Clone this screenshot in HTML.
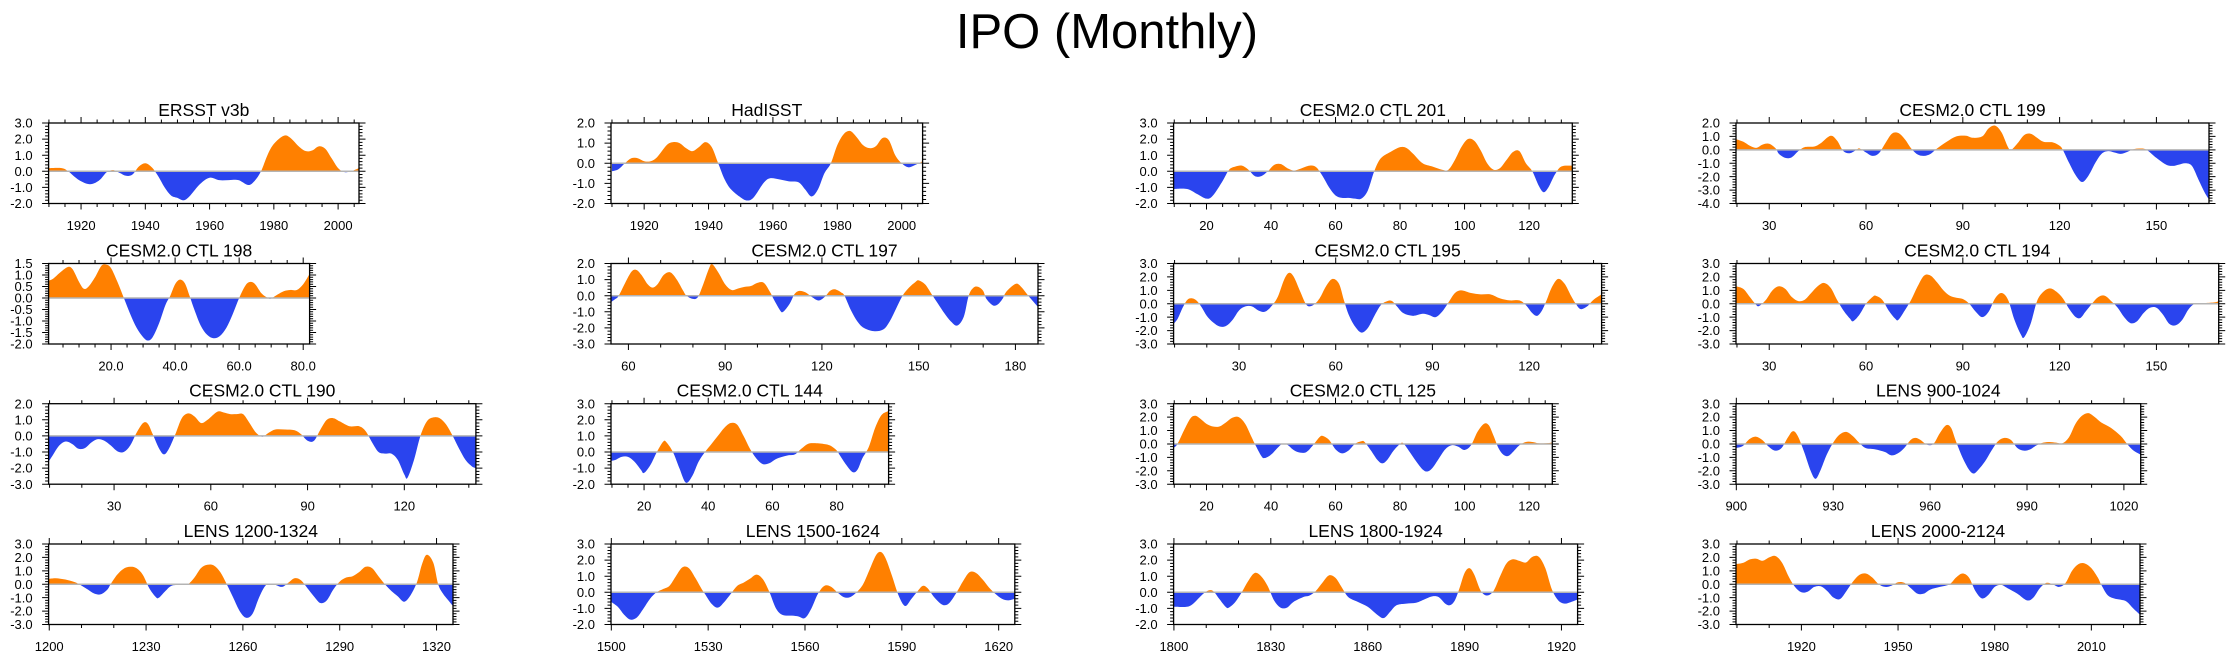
<!DOCTYPE html>
<html><head><meta charset="utf-8"><style>
html,body{margin:0;padding:0;background:#fff;}
svg{display:block;font-family:"Liberation Sans",sans-serif;}
</style></head><body>
<svg id="chart" width="2237" height="661" viewBox="0 0 2237 661" xmlns="http://www.w3.org/2000/svg">
<rect width="2237" height="661" fill="#fff"/>
<text x="1107" y="48" font-size="49" text-anchor="middle" fill="#000">IPO (Monthly)</text>
</svg>
<script>
// ---- data (x = year/model year, y = IPO index) ----
const ersstX=[1910,1914,1916,1919,1922,1924,1926,1928,1930,1932,1934,1936,1938,1940,1942,1944,1946,1948,1950,1952,1954,1957,1960,1963,1966,1969,1972,1974,1976,1978,1980,1983,1985,1988,1990,1992,1994,1996,1998,2000,2002,2004,2006.5];
const ersstY=[0.2,0.2,0,-0.5,-0.78,-0.75,-0.5,-0.05,0.07,-0.1,-0.28,-0.2,0.3,0.5,0.25,-0.3,-1.0,-1.5,-1.65,-1.8,-1.5,-0.8,-0.4,-0.55,-0.55,-0.55,-0.85,-0.6,0,1.0,1.7,2.2,2.1,1.5,1.25,1.3,1.55,1.4,0.8,0.2,-0.05,0,0.2];
const hadX=[1910,1912,1914,1916,1918,1920,1922,1924,1927,1929,1931,1933,1935,1937,1939,1941,1943,1945,1947,1950,1952,1954,1957,1959,1962,1965,1968,1970,1972,1974,1976,1978,1980,1982,1984,1986,1988,1990,1992,1994,1996,1998,2000,2002,2004,2006.5];
const hadY=[-0.4,-0.3,0,0.25,0.25,0.1,0.1,0.3,0.9,1.05,1.0,0.75,0.6,0.8,1.05,0.8,0,-0.8,-1.3,-1.7,-1.85,-1.7,-1.0,-0.75,-0.8,-0.9,-0.95,-1.3,-1.65,-1.3,-0.5,0,0.9,1.45,1.6,1.3,0.9,0.75,0.85,1.25,1.15,0.4,0,-0.2,-0.1,0.1];
const c201X=[9.8,14,17,20,22,25,27,29,31,33,35,37,39,41,43,45,47,49,52,54,56,58,60,62,64,66,68,70,72,74,77,80,82,84,87,90,93,95,97,99,101,103,105,107,109,111,113,115,117,119,121,123,124.5,126,128,130,133.4];
const c201Y=[-1.1,-1.1,-1.4,-1.7,-1.5,-0.6,0.1,0.3,0.35,0.1,-0.3,-0.3,0,0.4,0.45,0.2,0.05,0.15,0.35,0.25,-0.3,-1.0,-1.5,-1.65,-1.65,-1.7,-1.7,-1.2,0,0.8,1.2,1.5,1.45,1.1,0.5,0.3,0.1,0.1,0.7,1.5,2.0,1.9,1.3,0.5,0.1,0.2,0.7,1.2,1.25,0.5,0,-0.9,-1.3,-1.0,-0.2,0.3,0.35];
const c199X=[19.7,22,24,26,28,30,32,33,35,37,39,41,44,46,49,51,53,55,57,58,60,62,64,66,68,70,72,74,76,78,80,82,85,88,91,93,96,98,100,102,104,105,107,109,111,113,115,118,120,121,123,125,127,129,131,133,135,137,139,141,143,145,147,150,153,155,157,159,161,163,165,166.3];
const c199Y=[0.8,0.6,0.3,0.15,0.4,0.45,0.1,-0.3,-0.6,-0.55,-0.1,0.2,0.25,0.5,1.05,0.7,-0.1,-0.25,0,0.1,-0.2,-0.45,-0.25,0.5,1.2,1.25,0.8,0.1,-0.35,-0.45,-0.3,0.1,0.6,1.0,1.05,0.9,1.0,1.6,1.8,1.3,0.2,0,0.5,1.1,1.2,0.9,0.6,0.55,0.3,0,-1.0,-1.9,-2.4,-1.9,-1.0,-0.3,-0.1,-0.2,-0.3,-0.15,0.05,0.1,0,-0.6,-1.1,-1.2,-1.1,-1.0,-1.2,-2.2,-3.2,-3.7];
const c198X=[0.5,2,4,6.5,8,10,11.5,13,15,17,18.5,20,22,24,26,28,30,31.5,33,35,37,38.5,40,41.5,43,44.5,46,48,50,52,54,56,58,60,62,63.5,65,67,69,70,72,74,76,78,80,82];
const c198Y=[0.75,0.85,1.1,1.35,1.25,0.7,0.4,0.5,0.9,1.4,1.45,1.3,0.7,0,-0.7,-1.3,-1.7,-1.85,-1.7,-1.1,-0.3,0.1,0.6,0.8,0.65,0.1,-0.5,-1.2,-1.6,-1.75,-1.65,-1.3,-0.7,0,0.55,0.7,0.6,0.2,0,-0.02,0.15,0.3,0.35,0.35,0.6,1.05];
const c197X=[54.6,56,57,59,61,62.5,64,66,67.5,69,71,73,75,77,78,80,81.5,83,85,86,88,90,92,94,96,98,100,102,104,105,107,108,110,111.5,113,115,117,119,121,122.5,124,126,127,129,131,133,136,139,141,143,145,147,149,150,152,154,156,158,160,162,164,165.5,167,168.5,170,171,173,174.5,176,177,179,180.5,182,184,187];
const c197Y=[-0.4,-0.2,0,0.8,1.5,1.6,1.3,0.7,0.5,0.7,1.3,1.45,1.0,0.3,0,-0.2,-0.1,0.6,1.7,1.95,1.4,0.7,0.35,0.45,0.55,0.6,0.8,0.8,0.2,-0.2,-0.9,-1.0,-0.5,0.1,0.3,0.2,-0.1,-0.3,-0.05,0.3,0.4,0.2,0,-0.9,-1.6,-2.0,-2.2,-2.1,-1.6,-0.8,0,0.5,0.85,0.95,0.7,0.1,-0.5,-1.1,-1.6,-1.85,-1.3,0,0.5,0.55,0.3,-0.2,-0.6,-0.55,-0.2,0.2,0.6,0.75,0.5,0,-0.7];
const c195X=[9.7,11,12.5,14,15.5,17,18.5,20,22,24,26,28,30,32,34,36,38,40,42,44,45.5,47,49,51,53,55,57,59,61,62.5,64,66,68,70,72,74,76,77.5,79,81,84,87,89,91,93,95,97,99,102,105,108,111,114,117,119,121,122.5,124,125.5,127,129,131,133,134.5,136,138,140,142.5];
const c195Y=[-1.5,-1.1,-0.3,0.3,0.4,0.2,-0.3,-0.9,-1.4,-1.7,-1.65,-1.2,-0.5,-0.2,-0.2,-0.5,-0.6,-0.2,0.5,1.8,2.3,2.0,0.9,-0.1,-0.1,0.4,1.3,1.85,1.5,0.3,-0.8,-1.7,-2.15,-1.8,-0.9,-0.1,0.2,0.2,-0.2,-0.7,-0.9,-0.75,-0.85,-1.0,-0.6,0.1,0.8,1.0,0.8,0.7,0.7,0.4,0.25,0.25,-0.1,-0.7,-0.9,-0.5,0.3,1.2,1.85,1.5,0.6,0,-0.4,-0.2,0.3,0.7];
const c194X=[19.7,22,24,26,27,29,31,33,35,37,39,41,43,45,47,49,51,53,55,56,58,60,62,63,65,67,69,70,72,74,76,78,80,82,84,86,88,90,92,94,96,98,100,102,104,106,108,109,111,113,115,117,119,121,123,125,126.5,128,130,132,134,136,138,140,142,144,146,148,150,152,154,156,158,160,162,165,168,169.3];
const c194Y=[1.3,1.1,0.5,-0.1,-0.15,0.3,1.0,1.3,1.1,0.5,0.2,0.3,0.8,1.3,1.55,1.2,0.3,-0.5,-1.1,-1.3,-0.8,0,0.5,0.6,0.3,-0.5,-1.1,-1.2,-0.5,0.3,1.3,2.1,2.1,1.6,1.0,0.6,0.45,0.35,0,-0.6,-1.0,-0.6,0.4,0.8,0.3,-1.2,-2.3,-2.5,-1.5,0.2,0.9,1.15,0.9,0.4,-0.4,-1.0,-1.05,-0.6,0,0.5,0.6,0.2,-0.3,-1.0,-1.45,-1.3,-0.7,-0.3,-0.3,-0.8,-1.5,-1.6,-1.2,-0.4,0,0.05,0.1,0.2];
const c190X=[9.7,11,13,15,17,19,21,23,25,27,29,31,33,35,37,39,40.5,42,44,45.5,47,49,51,53,55,57,59,62,64,66,68,70,72,74,76,78,80,83,86,88,90,92,94,96,98,100,103,106,108,110,112,114,116,118,120,121,123,125,127,129,131,133,135,137,139,141,142.2];
const c190Y=[-1.6,-1.2,-0.6,-0.35,-0.5,-0.8,-0.75,-0.4,-0.2,-0.3,-0.6,-0.95,-1.0,-0.6,0.2,0.8,0.75,0.1,-0.8,-1.15,-0.8,0.1,1.1,1.4,1.2,0.8,1.0,1.5,1.45,1.35,1.35,1.35,0.8,0.2,-0.05,0.2,0.4,0.4,0.35,0.1,-0.3,-0.3,0.4,1.0,1.1,0.9,0.6,0.6,0.3,-0.4,-1.0,-1.1,-1.1,-1.5,-2.4,-2.6,-1.5,0,0.9,1.15,1.1,0.7,0,-0.8,-1.5,-1.9,-2.0];
const c144X=[9.7,11,13,15,17,19,20,22,24,26,27,29,31,33,35,37,39,41,43,45,47,49,51,53,55,57,59,61,63,65,67,69,71,73,76,78,80,81,83,85,86.5,88,90,92,94,96.2];
const c144Y=[-0.55,-0.5,-0.3,-0.3,-0.6,-1.1,-1.3,-0.8,0,0.65,0.6,0,-1.0,-1.9,-1.5,-0.6,0,0.5,1.0,1.5,1.8,1.7,1.0,0.2,-0.4,-0.75,-0.7,-0.45,-0.3,-0.2,-0.15,0.2,0.5,0.55,0.5,0.4,0.1,-0.2,-0.8,-1.25,-1.1,-0.4,0.3,1.5,2.3,2.55];
const c125X=[9.8,11,13,15,16.5,18,20,22,24,26,28,30,32,34,35,37,38,40,42,43.5,45,47,49,51,53,55,56,58,60,62,64,66,68,69,71,73,74.5,76,78,80,81,83,85,87,88.5,90,92,94,96,98,100,102,104,106,107.5,109,110.5,112,113.5,115,117,119,121,123,125,127.2];
const c125Y=[-0.3,0,1.0,1.9,2.1,1.9,1.5,1.3,1.3,1.6,1.95,2.0,1.5,0.5,0,-0.9,-1.05,-0.8,-0.3,0,-0.05,-0.45,-0.65,-0.6,-0.1,0.5,0.6,0.3,-0.4,-0.7,-0.5,0,0.2,0.15,-0.5,-1.2,-1.45,-1.2,-0.5,0,0.05,-0.6,-1.3,-1.9,-2.05,-1.8,-1.1,-0.4,-0.1,-0.2,-0.45,-0.1,0.9,1.5,1.4,0.6,-0.3,-0.8,-0.9,-0.6,-0.1,0.15,0.15,0.05,0.05,0.1];
const l900X=[899.9,902,904,906,908,910,912,914,916,917.5,919,921,923,924.5,926,928,930,932,934,936,938,940,943,946,948,950,952,954,955.5,957,959,961,963,965,966.5,968,970,972,973.5,975,977,979,981,983,985,987,989,991,993,995,997,999,1001,1003,1005,1007,1009,1011,1013,1016,1019,1021,1023,1025.2];
const l900Y=[-0.3,-0.15,0.35,0.55,0.3,-0.2,-0.5,-0.3,0.5,0.95,0.6,-0.6,-2.0,-2.6,-2.0,-0.8,0.1,0.7,0.9,0.6,0.1,-0.3,-0.4,-0.6,-0.85,-0.7,-0.3,0.3,0.45,0.3,-0.05,0,0.8,1.4,1.2,0.2,-1.0,-1.9,-2.2,-1.9,-1.3,-0.5,0.2,0.45,0.3,-0.3,-0.5,-0.4,-0.1,0.1,0.15,0.1,0.05,0.5,1.5,2.1,2.3,2.0,1.6,1.2,0.6,0,-0.5,-0.8];
const l1200X=[1199.8,1202,1205,1208,1210,1212,1214,1216,1218,1219,1221,1223,1225,1227,1229,1231,1233,1234,1236,1238,1241,1243,1245,1247,1249,1251,1253,1255,1257,1259,1261,1263,1265,1267,1269,1272,1274,1276,1278,1280,1282,1284,1286,1288,1290,1292,1294,1296,1298,1300,1302,1304,1306,1308,1310,1312,1314,1315.5,1317,1319,1320.5,1322,1324,1325];
const l1200Y=[0.4,0.45,0.35,0.15,-0.1,-0.4,-0.7,-0.75,-0.4,0,0.7,1.15,1.3,1.2,0.7,-0.3,-0.95,-1.0,-0.5,-0.1,-0.05,0,0.5,1.2,1.45,1.4,0.9,0,-1.0,-2.0,-2.5,-2.2,-1.0,-0.1,0.05,-0.2,0.1,0.45,0.3,-0.3,-0.9,-1.4,-1.2,-0.4,0.2,0.5,0.6,0.9,1.3,1.2,0.6,0,-0.5,-0.9,-1.3,-0.8,0.2,1.5,2.2,1.6,0,-0.7,-1.3,-1.6];
const l1500X=[1500,1502,1504,1506,1508,1510,1512,1514,1516,1518,1520,1522,1524,1526,1528,1529,1531,1533,1535,1537,1539,1541,1543,1545,1547,1549,1551,1553,1556,1558,1560,1562,1564,1566,1568,1570,1572,1574,1576,1578,1580,1582,1583.5,1585,1587,1589,1591,1593,1595,1596.5,1598,1600,1602,1603.5,1605,1607,1609,1611,1613,1615,1617,1619,1621,1623,1625];
const l1500Y=[-0.6,-0.9,-1.4,-1.7,-1.55,-1.0,-0.4,0,0.2,0.4,1.0,1.55,1.5,0.9,0.2,-0.1,-0.7,-0.95,-0.6,-0.1,0.4,0.6,0.85,1.1,0.8,0,-1.0,-1.4,-1.45,-1.5,-1.6,-1.0,-0.1,0.4,0.35,0,-0.3,-0.3,0,0.5,1.4,2.3,2.5,2.1,1.0,-0.2,-0.85,-0.4,0.1,0.4,0.25,-0.3,-0.7,-0.8,-0.6,0,0.7,1.25,1.2,0.8,0.3,-0.1,-0.4,-0.5,-0.4];
const l1800X=[1800,1804,1806,1808,1810,1812,1814,1816,1817,1819,1821,1823,1825,1827,1829,1831,1833,1835,1837,1840,1842,1844,1846,1848,1850,1852,1854,1857,1860,1863,1865,1867,1869,1872,1875,1878,1880,1882,1884,1885.5,1887,1888.5,1890,1891.5,1893,1895,1897,1899,1901,1903,1905,1907,1909,1911,1913,1915,1917,1919,1921,1923,1925];
const l1800Y=[-0.9,-0.9,-0.7,-0.3,0.05,0.1,-0.4,-0.9,-0.95,-0.6,0,0.7,1.2,1.0,0.4,-0.5,-0.95,-0.95,-0.6,-0.3,-0.2,0.1,0.6,1.05,0.9,0.3,-0.3,-0.6,-0.9,-1.4,-1.6,-1.2,-0.8,-0.7,-0.65,-0.4,-0.25,-0.3,-0.7,-0.8,-0.5,0.3,1.2,1.5,1.1,0.1,-0.2,0.1,1.0,1.8,2.05,1.95,1.85,2.2,2.2,1.5,0.2,-0.5,-0.7,-0.6,-0.45];
const l2000X=[1899.7,1902,1904,1906,1908,1910,1912,1914,1916,1918,1920,1922,1924,1926,1928,1930,1932,1934,1936,1938,1940,1942,1944,1946,1948,1950,1952,1954,1956,1958,1960,1963,1966,1968,1970,1972,1974,1976,1978,1980,1982,1984,1987,1990,1992,1994,1996,1998,2000,2002,2004,2006,2008,2010,2012,2013,2015,2017,2019,2021,2023,2025];
const l2000Y=[1.5,1.6,1.85,1.9,1.75,2.0,2.1,1.6,0.6,-0.2,-0.6,-0.55,-0.2,-0.15,-0.5,-1.0,-1.1,-0.5,0.2,0.7,0.8,0.5,0,-0.2,-0.1,0.15,0.1,-0.3,-0.7,-0.7,-0.4,-0.2,0,0.5,0.8,0.5,-0.5,-1.05,-0.8,-0.2,-0.05,-0.3,-0.7,-1.2,-1.0,-0.3,0.1,0,-0.2,0.1,1.0,1.5,1.55,1.2,0.5,0,-0.8,-1.05,-1.15,-1.3,-1.8,-2.25];

// ---- layout (positions/styles only) ----
const ROWS=[123,263.5,403.7,544], H=80.5;
const panels=[
 {id:'ersst',t:'ERSST v3b',r:0,L:48.6,R:359,x0:1909.9,x1:2006.5,xs:1920,xe:2000,st:20,mn:5,y0:-2,y1:3,ys:1,X:ersstX,Y:ersstY,f:0},
 {id:'hadisst',t:'HadISST',r:0,L:611,R:922.6,x0:1909.7,x1:2006.5,xs:1920,xe:2000,st:20,mn:5,y0:-2,y1:2,ys:1,X:hadX,Y:hadY,f:0},
 {id:'ctl201',t:'CESM2.0 CTL 201',r:0,L:1173.6,R:1572.3,x0:9.8,x1:133.4,xs:20,xe:120,st:20,mn:5,y0:-2,y1:3,ys:1,X:c201X,Y:c201Y,f:0},
 {id:'ctl199',t:'CESM2.0 CTL 199',r:0,L:1736,R:2209,x0:19.7,x1:166.3,xs:30,xe:150,st:30,mn:10,y0:-4,y1:2,ys:1,X:c199X,Y:c199Y,f:0},
 {id:'ctl198',t:'CESM2.0 CTL 198',r:1,L:48.6,R:309.6,x0:0.5,x1:82,xs:20,xe:80,st:20,mn:5,y0:-2,y1:1.5,ys:0.5,X:c198X,Y:c198Y,f:1},
 {id:'ctl197',t:'CESM2.0 CTL 197',r:1,L:611,R:1038,x0:54.6,x1:187,xs:60,xe:180,st:30,mn:10,y0:-3,y1:2,ys:1,X:c197X,Y:c197Y,f:0},
 {id:'ctl195',t:'CESM2.0 CTL 195',r:1,L:1173.6,R:1601.6,x0:9.7,x1:142.5,xs:30,xe:120,st:30,mn:10,y0:-3,y1:3,ys:1,X:c195X,Y:c195Y,f:0},
 {id:'ctl194',t:'CESM2.0 CTL 194',r:1,L:1736,R:2218.7,x0:19.7,x1:169.3,xs:30,xe:150,st:30,mn:10,y0:-3,y1:3,ys:1,X:c194X,Y:c194Y,f:0},
 {id:'ctl190',t:'CESM2.0 CTL 190',r:2,L:48.6,R:475.9,x0:9.7,x1:142.2,xs:30,xe:120,st:30,mn:10,y0:-3,y1:2,ys:1,X:c190X,Y:c190Y,f:0},
 {id:'ctl144',t:'CESM2.0 CTL 144',r:2,L:611,R:888.6,x0:9.7,x1:96.2,xs:20,xe:80,st:20,mn:5,y0:-2,y1:3,ys:1,X:c144X,Y:c144Y,f:0},
 {id:'ctl125',t:'CESM2.0 CTL 125',r:2,L:1173.6,R:1552.3,x0:9.8,x1:127.2,xs:20,xe:120,st:20,mn:5,y0:-3,y1:3,ys:1,X:c125X,Y:c125Y,f:0},
 {id:'lens900',t:'LENS 900-1024',r:2,L:1736,R:2140.7,x0:899.9,x1:1025.2,xs:900,xe:1020,st:30,mn:10,y0:-3,y1:3,ys:1,X:l900X,Y:l900Y,f:0},
 {id:'lens1200',t:'LENS 1200-1324',r:3,L:48.6,R:453,x0:1199.8,x1:1325.1,xs:1200,xe:1320,st:30,mn:10,y0:-3,y1:3,ys:1,X:l1200X,Y:l1200Y,f:0},
 {id:'lens1500',t:'LENS 1500-1624',r:3,L:611,R:1014.8,x0:1499.9,x1:1625,xs:1500,xe:1620,st:30,mn:10,y0:-2,y1:3,ys:1,X:l1500X,Y:l1500Y,f:0},
 {id:'lens1800',t:'LENS 1800-1924',r:3,L:1173.6,R:1577.6,x0:1799.9,x1:1925,xs:1800,xe:1920,st:30,mn:10,y0:-2,y1:3,ys:1,X:l1800X,Y:l1800Y,f:0},
 {id:'lens2000',t:'LENS 2000-2124',r:3,L:1736,R:2140,x0:1899.7,x1:2025.1,xs:1920,xe:2010,st:30,mn:10,y0:-3,y1:3,ys:1,X:l2000X,Y:l2000Y,f:0}
];
const NS='http://www.w3.org/2000/svg';
const svg=document.getElementById('chart');
function mk(tag,attrs,parent){const e=document.createElementNS(NS,tag);for(const k in attrs)e.setAttribute(k,attrs[k]);(parent||svg).appendChild(e);return e;}
const defs=mk('defs',{});
function smoothPath(pts){
 let d='M'+pts[0][0].toFixed(2)+','+pts[0][1].toFixed(2);
 for(let i=0;i<pts.length-1;i++){
  const p0=pts[Math.max(0,i-1)],p1=pts[i],p2=pts[i+1],p3=pts[Math.min(pts.length-1,i+2)];
  const c1x=p1[0]+(p2[0]-p0[0])/6,c1y=p1[1]+(p2[1]-p0[1])/6;
  const c2x=p2[0]-(p3[0]-p1[0])/6,c2y=p2[1]-(p3[1]-p1[1])/6;
  d+=' C'+c1x.toFixed(2)+','+c1y.toFixed(2)+' '+c2x.toFixed(2)+','+c2y.toFixed(2)+' '+p2[0].toFixed(2)+','+p2[1].toFixed(2);
 }
 return d;
}
panels.forEach(p=>{
 const T=ROWS[p.r],B=T+H,L=p.L,R=p.R;
 const sx=v=>L+(v-p.x0)/(p.x1-p.x0)*(R-L);
 const sy=v=>B-(v-p.y0)/(p.y1-p.y0)*H;
 const g=mk('g',{});
 
 
 const title=mk('text',{x:((L+R)/2).toFixed(1),y:(T-7).toFixed(1),'font-size':'17.5','text-anchor':'middle',fill:'#000'},g);
 title.textContent=p.t;
 
 
 const z=sy(0);
 const ca=mk('clipPath',{id:'ca-'+p.id},defs);mk('rect',{x:L,y:T,width:R-L,height:z-T},ca);
 const cb=mk('clipPath',{id:'cb-'+p.id},defs);mk('rect',{x:L,y:z,width:R-L,height:B-z},cb);
 const pts=p.X.map((x,i)=>[sx(x),sy(p.Y[i])]);
 const area=smoothPath(pts)+' L'+pts[pts.length-1][0].toFixed(2)+','+z.toFixed(2)+' L'+pts[0][0].toFixed(2)+','+z.toFixed(2)+' Z';
 const pos=mk('path',{d:area,fill:'#ff8000','clip-path':'url(#ca-'+p.id+')'},g);
 
 
 const neg=mk('path',{d:area,fill:'#2a44ee','clip-path':'url(#cb-'+p.id+')'},g);
 
 
 const zl=mk('line',{x1:L,x2:R,y1:z,y2:z,stroke:'#b4b4b4','stroke-width':1.5},g);
 
 
 const box=mk('rect',{x:L,y:T,width:R-L,height:H,fill:'none',stroke:'#000','stroke-width':1.3},g);
 
 
 // x ticks
 let tk='';
 const start=Math.ceil((p.x0-1e-6)/p.mn)*p.mn;
 for(let v=start;v<=p.x1+1e-6;v+=p.mn){
  const x=sx(v).toFixed(2);const maj=Math.abs(((v-p.xs)/p.st)-Math.round((v-p.xs)/p.st))<1e-6;
  const l=maj?6:3.5;
  tk+='M'+x+','+B+'v'+l+'M'+x+','+T+'v-'+l;
 }
 // y ticks
 const ymn=p.ys/5;
 for(let k=0;;k++){const v=p.y0+k*ymn;if(v>p.y1+1e-6)break;
  const y=sy(v).toFixed(2);const maj=Math.abs(v/p.ys-Math.round(v/p.ys))<1e-6;const l=maj?6.5:3.5;
  tk+='M'+L+','+y+'h-'+l+'M'+R+','+y+'h'+l;
 }
 const ticks=mk('path',{d:tk,stroke:'#000','stroke-width':1,fill:'none'},g);
 
 
 for(let v=p.xs;v<=p.xe+1e-6;v+=p.st){
  const t=mk('text',{x:sx(v).toFixed(1),y:(B+26.5).toFixed(1),'font-size':'13','text-anchor':'middle',fill:'#000'},g);
  t.textContent=p.f?v.toFixed(1):String(v);
  
  
 }
 for(let k=0;;k++){const v=p.y0+k*p.ys;if(v>p.y1+1e-6)break;
  const t=mk('text',{x:(L-16).toFixed(1),y:(sy(v)+4.6).toFixed(1),'font-size':'13','text-anchor':'end',fill:'#000'},g);
  t.textContent=v.toFixed(1);
  
  
 }
});
</script>
</body></html>
